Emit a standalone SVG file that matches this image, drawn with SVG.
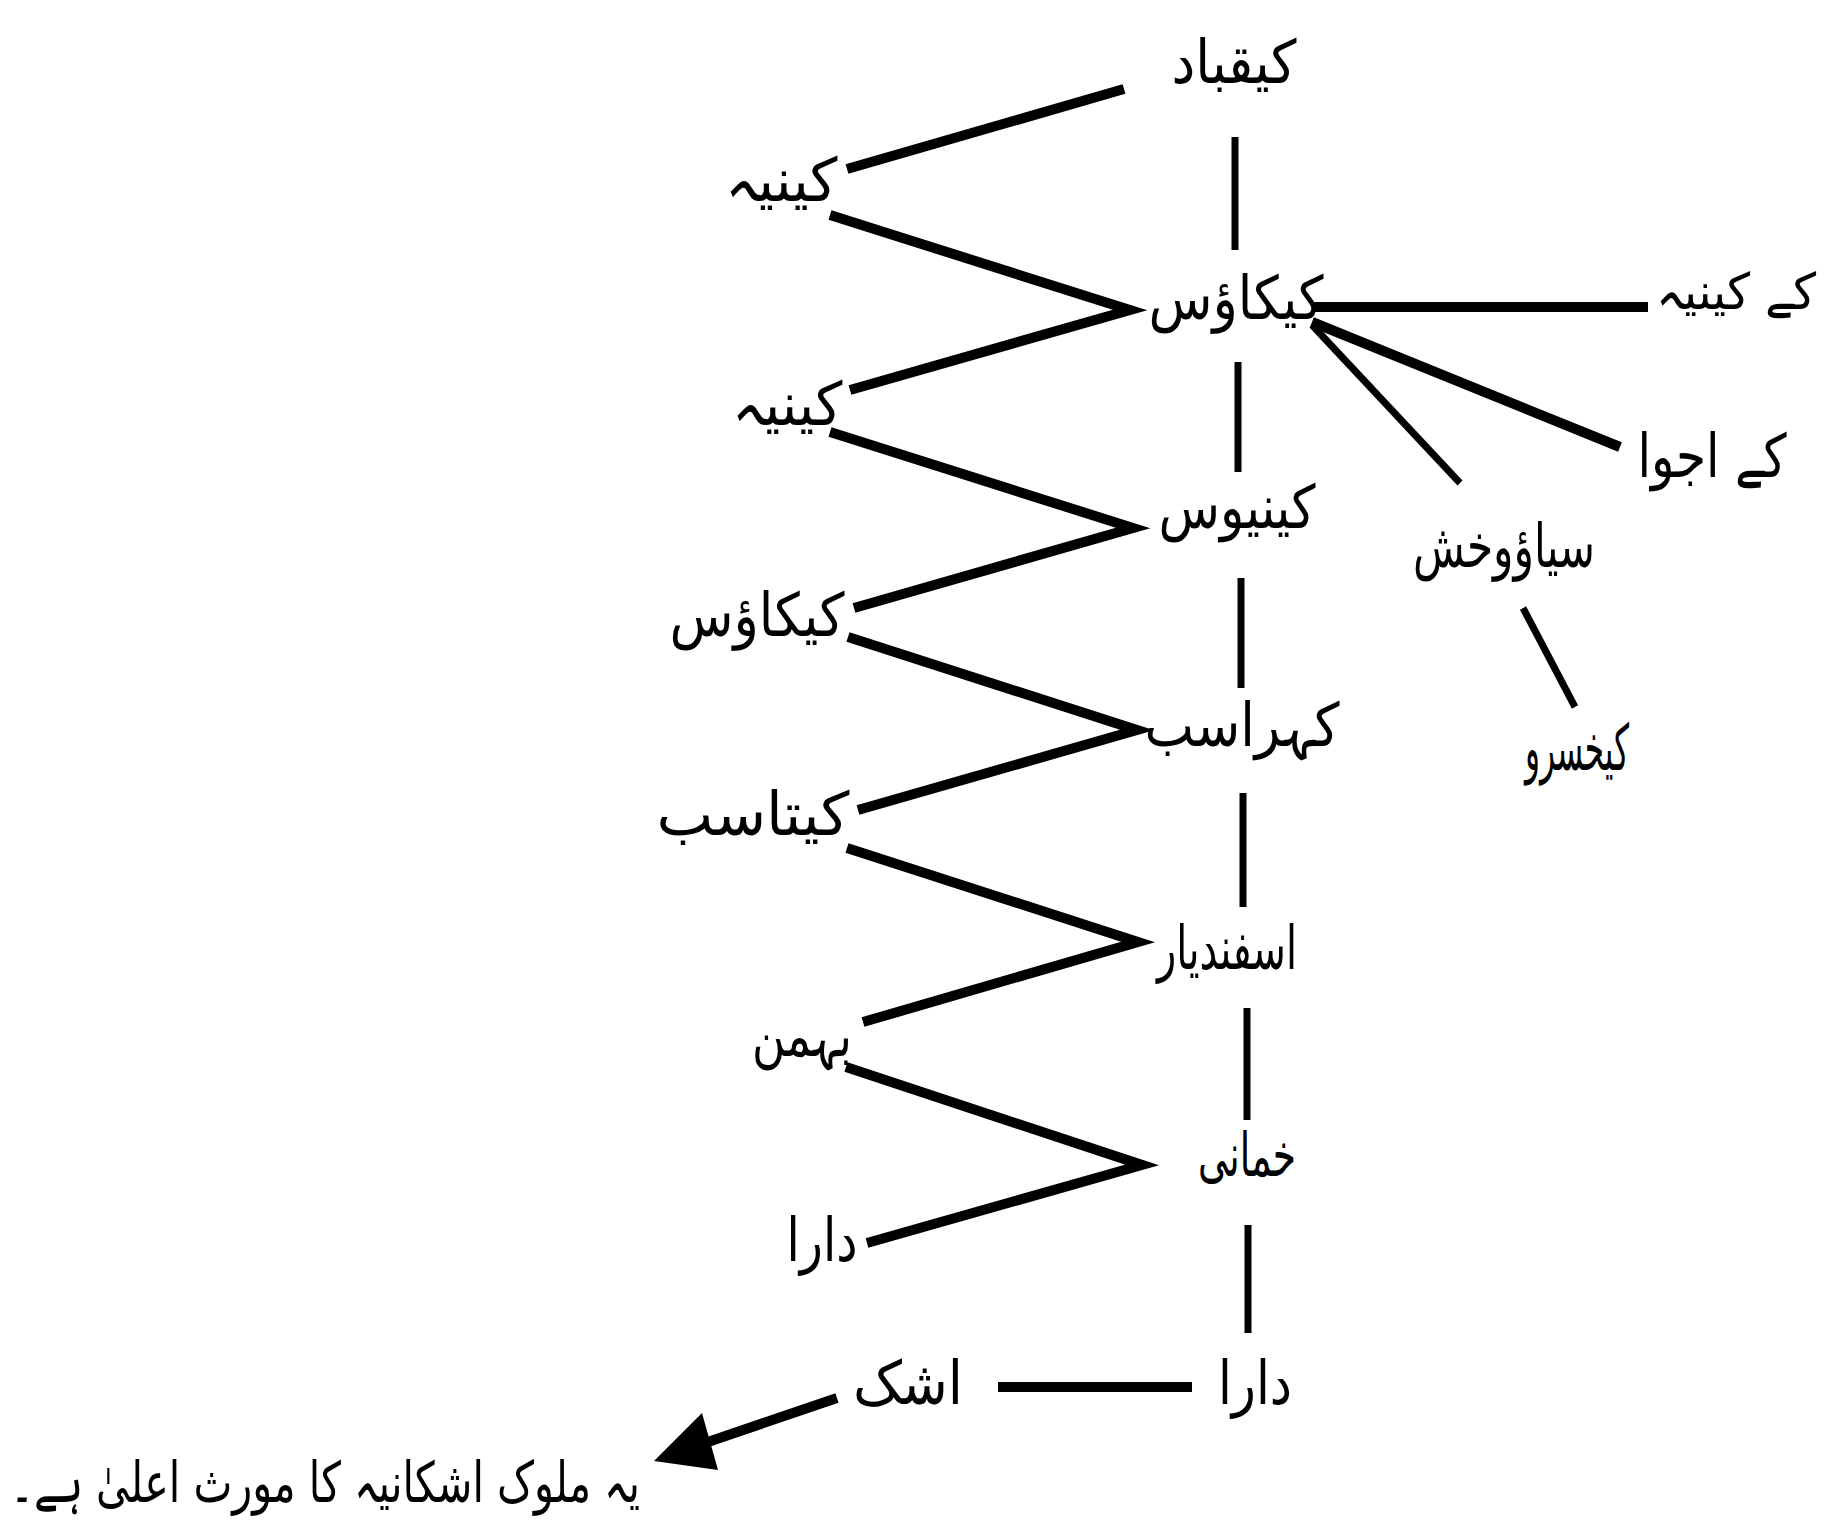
<svg xmlns="http://www.w3.org/2000/svg" width="1846" height="1539" viewBox="0 0 1846 1539">
<style>
  .bg { fill: #ffffff; }
  .ln { stroke: #000; stroke-width: 10; fill: none; stroke-linecap: butt; stroke-linejoin: miter; }
  .vt { stroke: #000; stroke-width: 7; fill: none; }
  .th { stroke: #000; stroke-width: 7; fill: none; }
  .lbl { font-family: "DejaVu Sans", "Noto Sans", sans-serif; font-size: 60px; fill: #000; text-anchor: middle; dominant-baseline: central; direction: rtl; }
  .note { font-family: "DejaVu Sans", "Noto Sans", sans-serif; font-size: 56px; fill: #000; text-anchor: middle; dominant-baseline: central; direction: rtl; }
</style>
<rect class="bg" x="0" y="0" width="1846" height="1539"/>

<g id="connectors">
  <line class="ln" x1="1124" y1="89" x2="847" y2="169"/>
  <polyline class="ln" points="830,215 1130,310 850,390"/>
  <polyline class="ln" points="830,432 1133,528 854,608"/>
  <polyline class="ln" points="848,637 1137,730 858,810"/>
  <polyline class="ln" points="847,848 1138,942 863,1022"/>
  <polyline class="ln" points="846,1067 1142,1165 867,1243"/>
  <line class="vt" x1="1235" y1="137" x2="1235" y2="250"/>
  <line class="vt" x1="1238" y1="362" x2="1238" y2="472"/>
  <line class="vt" x1="1241" y1="578" x2="1241" y2="688"/>
  <line class="vt" x1="1243" y1="793" x2="1243" y2="907"/>
  <line class="vt" x1="1247" y1="1008" x2="1247" y2="1120"/>
  <line class="vt" x1="1248" y1="1225" x2="1248" y2="1333"/>
  <line class="ln" x1="1312" y1="307" x2="1648" y2="307"/>
  <line class="ln" x1="1312" y1="322" x2="1620" y2="447"/>
  <line class="th" x1="1312" y1="325" x2="1460" y2="483"/>
  <line class="th" x1="1523" y1="608" x2="1575" y2="707"/>
  <line class="ln" x1="998" y1="1387" x2="1192" y2="1387"/>
  <line class="ln" x1="837" y1="1398" x2="705" y2="1443"/>
  <polygon points="654,1461 702,1413 718,1470" fill="#000"/>
</g>

<g id="n-kaiqubad"><text class="lbl" x="1234" y="62" textLength="125" lengthAdjust="spacingAndGlyphs">کیقباد</text></g>
<g id="n-kainiya1"><text class="lbl" x="781" y="180" textLength="113" lengthAdjust="spacingAndGlyphs">کینیہ</text></g>
<g id="n-kaikaus"><text class="lbl" x="1236" y="298" textLength="175" lengthAdjust="spacingAndGlyphs">کیکاؤس</text></g>
<g id="n-ke-kainiya"><text class="lbl" x="1736" y="292" textLength="160" lengthAdjust="spacingAndGlyphs" style="font-size:50px">کے کینیہ</text></g>
<g id="n-ke-ajwa"><text class="lbl" x="1712" y="456" textLength="149" lengthAdjust="spacingAndGlyphs">کے اجوا</text></g>
<g id="n-siyawakhsh"><text class="lbl" x="1504" y="546" textLength="182" lengthAdjust="spacingAndGlyphs">سیاؤوخش</text></g>
<g id="n-kaikhusrau"><text class="lbl" x="1577" y="748" textLength="104" lengthAdjust="spacingAndGlyphs" style="font-size:64px">کیخسرو</text></g>
<g id="n-kainiya2"><text class="lbl" x="787" y="404" textLength="111" lengthAdjust="spacingAndGlyphs">کینیہ</text></g>
<g id="n-kainius"><text class="lbl" x="1237" y="507" textLength="157" lengthAdjust="spacingAndGlyphs">کینیوس</text></g>
<g id="n-kaikaus2"><text class="lbl" x="757" y="615" textLength="175" lengthAdjust="spacingAndGlyphs">کیکاؤس</text></g>
<g id="n-kahrasb"><text class="lbl" x="1242" y="725" textLength="195" lengthAdjust="spacingAndGlyphs">کہراسب</text></g>
<g id="n-kaitasb"><text class="lbl" x="753" y="814" textLength="193" lengthAdjust="spacingAndGlyphs">کیتاسب</text></g>
<g id="n-isfandiyar"><text class="lbl" x="1227" y="948" textLength="140" lengthAdjust="spacingAndGlyphs">اسفندیار</text></g>
<g id="n-bahman"><text class="lbl" x="802" y="1035" textLength="100" lengthAdjust="spacingAndGlyphs">بہمن</text></g>
<g id="n-khumani"><text class="lbl" x="1247" y="1155" textLength="98" lengthAdjust="spacingAndGlyphs">خمانی</text></g>
<g id="n-dara1"><text class="lbl" x="822" y="1240" textLength="71" lengthAdjust="spacingAndGlyphs">دارا</text></g>
<g id="n-dara2"><text class="lbl" x="1255" y="1383" textLength="74" lengthAdjust="spacingAndGlyphs">دارا</text></g>
<g id="n-ashk"><text class="lbl" x="908" y="1383" textLength="110" lengthAdjust="spacingAndGlyphs">اشک</text></g>
<g id="n-note"><text class="note" x="325" y="1482" textLength="630" lengthAdjust="spacingAndGlyphs">یہ ملوک اشکانیہ کا مورث اعلیٰ ہے۔</text></g>
</svg>
